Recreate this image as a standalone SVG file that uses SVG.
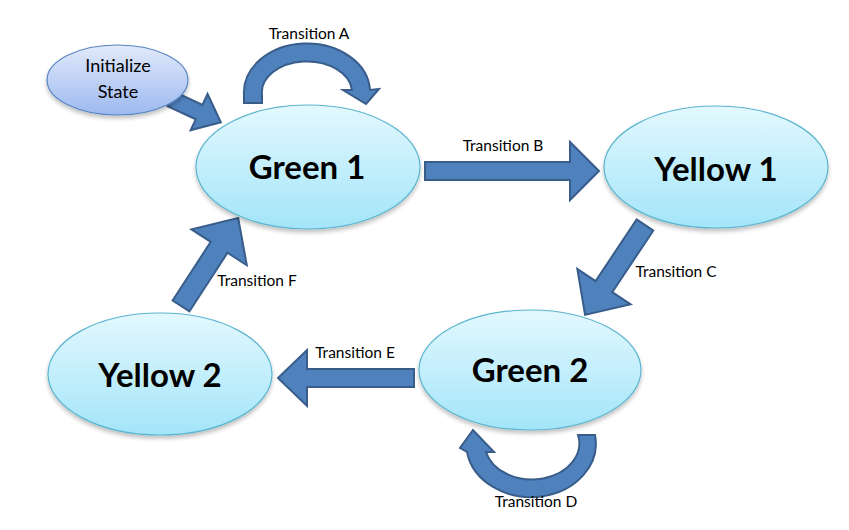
<svg xmlns="http://www.w3.org/2000/svg" width="849" height="530" viewBox="0 0 849 530">
<defs>
<linearGradient id="gState" x1="0" y1="0" x2="0" y2="1">
<stop offset="0" stop-color="#E3F8FE"/>
<stop offset="1" stop-color="#A3E5F9"/>
</linearGradient>
<linearGradient id="gInit" x1="0" y1="0" x2="0" y2="1">
<stop offset="0" stop-color="#E2EAFA"/>
<stop offset="1" stop-color="#9DB9F0"/>
</linearGradient>
<filter id="sh" x="-20%" y="-20%" width="140%" height="150%">
<feGaussianBlur in="SourceAlpha" stdDeviation="2"/>
<feOffset dx="0" dy="3" result="b"/>
<feComponentTransfer><feFuncA type="linear" slope="0.25"/></feComponentTransfer>
<feMerge><feMergeNode/><feMergeNode in="SourceGraphic"/></feMerge>
</filter>
</defs>
<style>
.st{fill:url(#gState);stroke:#5BB5CF;stroke-width:1.2;filter:url(#sh)}
.init{fill:url(#gInit);stroke:#5A86C4;stroke-width:1.2;filter:url(#sh)}
.big{font-family:Lato,"Liberation Sans",sans-serif;font-weight:bold;font-size:33px;fill:#000;text-anchor:middle}
.sm{font-family:Lato,"Liberation Sans",sans-serif;font-size:18px;fill:#000;text-anchor:middle}
.lbl{font-family:Lato,"Liberation Sans",sans-serif;font-size:15.5px;fill:#000;text-anchor:middle}
.arr{fill:#4F81BD;stroke:#385D8A;stroke-width:2;stroke-linejoin:miter}
</style>
<rect width="849" height="530" fill="#fff"/>
<g id="connectors">
<polygon class="arr" transform="translate(171,99) rotate(25)" points="0,-8 31,-8 31,-20 55,0 31,20 31,8 0,8"/>
<path class="arr" d="M244,103 L244,95 A63,49 0 0 1 370,90 L379,89 L366,104 L343,90 L352,90 A45,31 0 0 0 262,95 L262,103 Z"/>
<polygon class="arr" points="425,162 570,162 570,142 599,171 570,200 570,180 425,180"/>
<polygon class="arr" transform="translate(645,225) rotate(123.7)" points="0,-10 74,-10 74,-32 108,0 74,32 74,10 0,10"/>
<path class="arr" d="M595,435 A64,53 0 0 1 467,452 L460,448 L473,430 L494,452 L486,452 A46,35 0 0 0 578,435 Z"/>
<polygon class="arr" points="414,369 307,369 307,350 278,378 307,406 307,387 414,387"/>
<polygon class="arr" transform="translate(181,306) rotate(-57)" points="0,-10 70,-10 70,-33 105,0 70,33 70,10 0,10"/>
<text class="lbl" x="309" y="39">Transition A</text>
<text class="lbl" x="503" y="151">Transition B</text>
<text class="lbl" x="676" y="277">Transition C</text>
<text class="lbl" x="536" y="507">Transition D</text>
<text class="lbl" x="355" y="358">Transition E</text>
<text class="lbl" x="257" y="286">Transition F</text>
</g>
<g id="init">
<ellipse class="init" cx="117.5" cy="80" rx="70.5" ry="35"/>
<text class="sm" x="118" y="72">Initialize</text>
<text class="sm" x="118" y="98">State</text>
</g>
<g id="green1">
<ellipse class="st" cx="308" cy="167" rx="112" ry="62"/>
<text class="big" x="307" y="179">Green 1</text>
</g>
<g id="yellow1">
<ellipse class="st" cx="716" cy="167" rx="112" ry="61"/>
<text class="big" x="716" y="181">Yellow 1</text>
</g>
<g id="green2">
<ellipse class="st" cx="530" cy="370" rx="111" ry="60"/>
<text class="big" x="530" y="382">Green 2</text>
</g>
<g id="yellow2">
<ellipse class="st" cx="160" cy="374" rx="112" ry="61"/>
<text class="big" x="160" y="387">Yellow 2</text>
</g>
</svg>
